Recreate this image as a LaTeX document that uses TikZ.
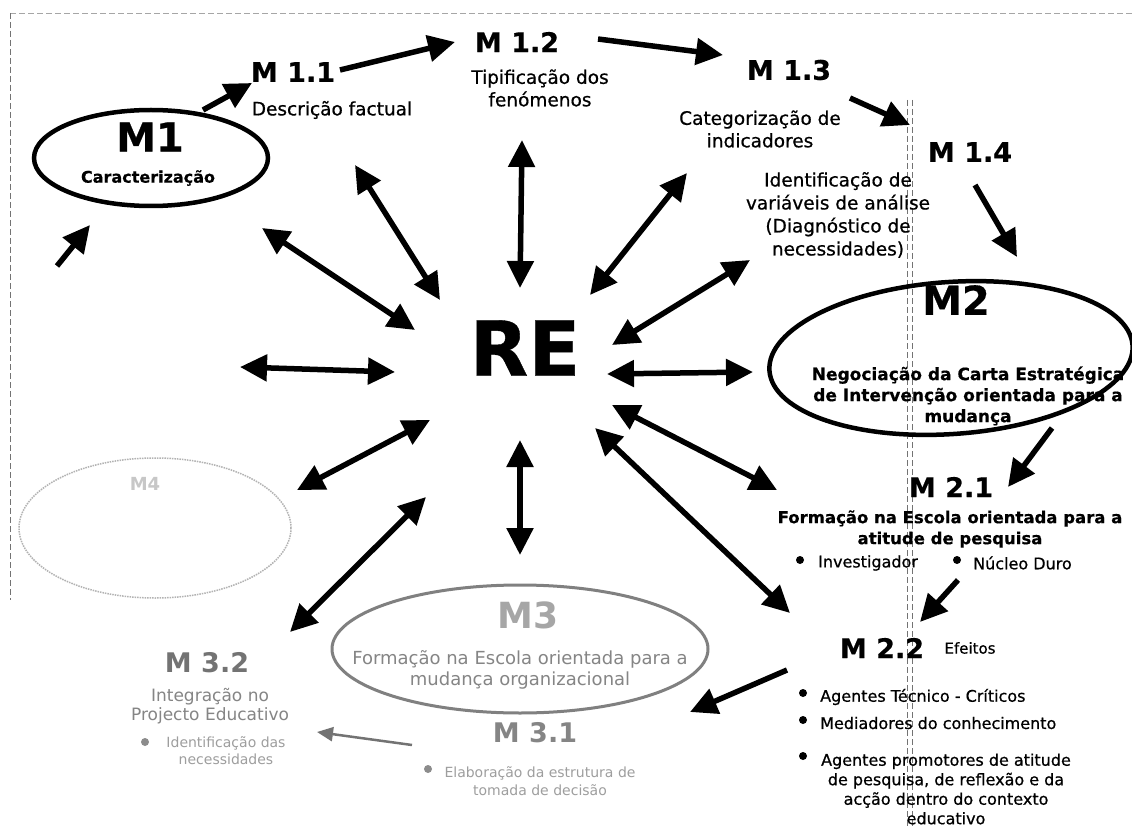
\documentclass[tikz,border=0pt]{standalone}
\usepackage{fontspec}
\setmainfont{DejaVu Sans}
\newfontfamily\inkfont{DejaVu Sans}[FakeBold=0.7]
\newfontfamily\inkbold{DejaVu Sans Bold}[FakeBold=0.5]
\usetikzlibrary{arrows.meta,shapes.geometric}
\tikzset{
  lab/.style={inner sep=0pt, align=center, font=\inkfont\fontsize{18.5}{22.5}\selectfont},
  labb/.style={inner sep=0pt, align=center, font=\inkbold\fontsize{16.5}{21}\selectfont},
  small/.style={inner sep=0pt, align=center, font=\inkfont\fontsize{16}{19.5}\selectfont},
  code/.style={inner sep=0pt, font=\inkbold\fontsize{27}{30}\selectfont},
  big/.style={inner sep=0pt, font=\inkbold\fontsize{40}{44}\selectfont},
  oval/.style={ellipse, draw, line width=4.5pt, inner sep=0pt},
  dot/.style={circle, fill, inner sep=0pt, minimum size=8pt},
  flow/.style={line width=5.5pt, -{Triangle[length=27pt,width=26pt]}},
  spoke/.style={line width=5.5pt, {Triangle[length=27pt,width=26pt]}-{Triangle[length=27pt,width=26pt]}},
  faint/.style={text=black!48},
  frame/.style={black!55, line width=0.8pt, dash pattern=on 6pt off 3pt},
}
\begin{document}
\begin{tikzpicture}[x=1pt,y=-1pt]
\useasboundingbox (0,0) rectangle (1132,826);
\fill[white] (0,0) rectangle (1132,826);

% page edges of the scanned sheet
\coordinate (fa) at (10,13);
\coordinate (fb) at (1132,13);
\coordinate (fc) at (10,600);
\coordinate (fd) at (907,100);
\coordinate (fe) at (907,826);
\coordinate (ff) at (912,100);
\coordinate (fg) at (912,826);
\draw[frame, black!35] (fa) -- (fb);
\draw[frame] (fa) -- (fc);
\draw[frame] (fd) -- (fe);
\draw[frame] (ff) -- (fg);

% ---------- M1 ----------
\node[oval, minimum width=234pt, minimum height=96pt] (m1) at (151,158) {};
\node[big] (m1t) at (150,137) {M1};
\node[labb, font=\inkbold\fontsize{16}{19}\selectfont] (m1d) at (148,178) {Caracterização};

\node[code] (m11) at (293,72) {M 1.1};
\node[lab] (m11d) at (332,110) {Descrição factual};

\node[code] (m12) at (517,42) {M 1.2};
\node[lab] (m12d) at (540,88) {Tipificação dos\\fenómenos};

\node[code] (m13) at (789,70) {M 1.3};
\node[lab] (m13d) at (760,129) {Categorização de\\indicadores};

\node[code] (m14) at (970,152) {M 1.4};
\node[lab, font=\inkfont\fontsize{18.5}{23}\selectfont] (m14d) at (838,215) {Identificação de\\variáveis de análise\\(Diagnóstico de\\necessidades)};

% ---------- M2 ----------
\node[oval, minimum width=364pt, minimum height=152pt, rotate=4] (m2) at (951,358) {};
\node[big] (m2t) at (956,300) {M2};
\node[labb, font=\inkbold\fontsize{17}{21}\selectfont] (m2d) at (968,396) {Negociação da Carta Estratégica\\de Intervenção orientada para a\\mudança};

\node[code] (m21) at (951,487) {M 2.1};
\node[labb] (m21d) at (950,529) {Formação na Escola orientada para a\\atitude de pesquisa};
\node[dot] (b211) at (800,560) {};
\node[small, anchor=west] (m21a) at (818,563) {Investigador};
\node[dot] (b212) at (957,560) {};
\node[small, anchor=west] (m21b) at (973,563) {Núcleo Duro};

\node[code] (m22) at (882,648) {M 2.2};
\node[small, font=\inkfont\fontsize{15}{18}\selectfont] (m22e) at (970,648) {Efeitos};
\node[dot] (b221) at (803,693) {};
\node[small, anchor=west] (m22a) at (820,697) {Agentes Técnico - Críticos};
\node[dot] (b222) at (803,720) {};
\node[small, anchor=west] (m22b) at (820,723) {Mediadores do conhecimento};
\node[dot] (b223) at (803,756) {};
\node[small] (m22c) at (946,789) {Agentes promotores de atitude\\de pesquisa, de reflexão e da\\acção dentro do contexto\\educativo};

% ---------- RE ----------
\node[inner sep=0pt, font=\inkbold\fontsize{76}{80}\selectfont] (re) at (525,348) {RE};

% ---------- M3 (faded print) ----------
\node[ellipse, draw=black!50, line width=3pt, minimum width=376pt, minimum height=128pt] (m3) at (520,649) {};
\node[inner sep=0pt, text=black!35, font=\bfseries\fontsize{36}{40}\selectfont] (m3t) at (528,615) {M3};
\node[inner sep=0pt, align=center, faint, font=\fontsize{18}{21}\selectfont] (m3d) at (520,670) {Formação na Escola orientada para a\\mudança organizacional};
\node[inner sep=0pt, faint, font=\bfseries\fontsize{27}{30}\selectfont] (m31) at (535,733) {M 3.1};
\node[dot, black!45] (b311) at (428,769) {};
\node[inner sep=0pt, align=center, text=black!38, font=\fontsize{14}{18}\selectfont] (m31d) at (540,781) {Elaboração da estrutura de\\tomada de decisão};

\node[inner sep=0pt, text=black!55, font=\bfseries\fontsize{27}{30}\selectfont] (m32) at (207,663) {M 3.2};
\node[inner sep=0pt, align=center, faint, font=\fontsize{17}{19}\selectfont] (m32d) at (210,706) {Integração no\\Projecto Educativo};
\node[dot, black!45] (b321) at (145,742) {};
\node[inner sep=0pt, align=center, text=black!38, font=\fontsize{14}{17}\selectfont] (m32a) at (226,751) {Identificação das\\necessidades};

% ---------- M4 (barely printed) ----------
\node[ellipse, draw=black!30, densely dotted, line width=1.5pt, minimum width=272pt, minimum height=140pt] (m4) at (155,528) {};
\node[inner sep=0pt, text=black!22, font=\bfseries\fontsize{18}{20}\selectfont] (m4t) at (145,484) {M4};

% ---------- sequence arrows ----------
\coordinate (s1a) at (203,110);  \coordinate (s1b) at (252,83);
\coordinate (s2a) at (340,70);   \coordinate (s2b) at (455,42);
\coordinate (s3a) at (598,39);   \coordinate (s3b) at (723,55);
\coordinate (s4a) at (850,98);   \coordinate (s4b) at (910,125);
\coordinate (s5a) at (975,185);  \coordinate (s5b) at (1017,257);
\coordinate (s6a) at (1052,428); \coordinate (s6b) at (1008,487);
\coordinate (s7a) at (958,580);  \coordinate (s7b) at (920,622);
\coordinate (s8a) at (787,670);  \coordinate (s8b) at (690,712);
\coordinate (s9a) at (412,745);  \coordinate (s9b) at (317,732);
\coordinate (s0a) at (57,266);   \coordinate (s0b) at (90,225);
\draw[flow] (s1a) -- (s1b);
\draw[flow] (s2a) -- (s2b);
\draw[flow] (s3a) -- (s3b);
\draw[flow] (s4a) -- (s4b);
\draw[flow] (s5a) -- (s5b);
\draw[flow] (s6a) -- (s6b);
\draw[flow] (s7a) -- (s7b);
\draw[flow] (s8a) -- (s8b);
\draw[black!55, line width=2.5pt, -{Triangle[length=16pt,width=14pt]}] (s9a) -- (s9b);
\draw[flow] (s0a) -- (s0b);

% ---------- spokes around RE ----------
\coordinate (rb) at (520,288);  \coordinate (ob) at (522,140);
\coordinate (rc) at (590,295);  \coordinate (oc) at (687,173);
\coordinate (rd) at (612,345);  \coordinate (od) at (750,260);
\coordinate (rE) at (607,374);  \coordinate (oE) at (753,372);
\coordinate (rf) at (612,405);  \coordinate (of) at (777,490);
\coordinate (rg) at (595,428);  \coordinate (og) at (790,613);
\coordinate (rh) at (520,440);  \coordinate (oh) at (520,555);
\coordinate (ri) at (426,497);  \coordinate (oi) at (290,632);
\coordinate (rj) at (430,420);  \coordinate (oj) at (297,490);
\coordinate (rk) at (395,372);  \coordinate (ok) at (240,367);
\coordinate (rl) at (415,330);  \coordinate (ol) at (262,228);
\coordinate (rm) at (440,300);  \coordinate (om) at (355,165);
\foreach \s in {b,c,d,E,f,g,h,i,j,k,l,m}
  \draw[spoke] (r\s) -- (o\s);
\end{tikzpicture}
\end{document}
